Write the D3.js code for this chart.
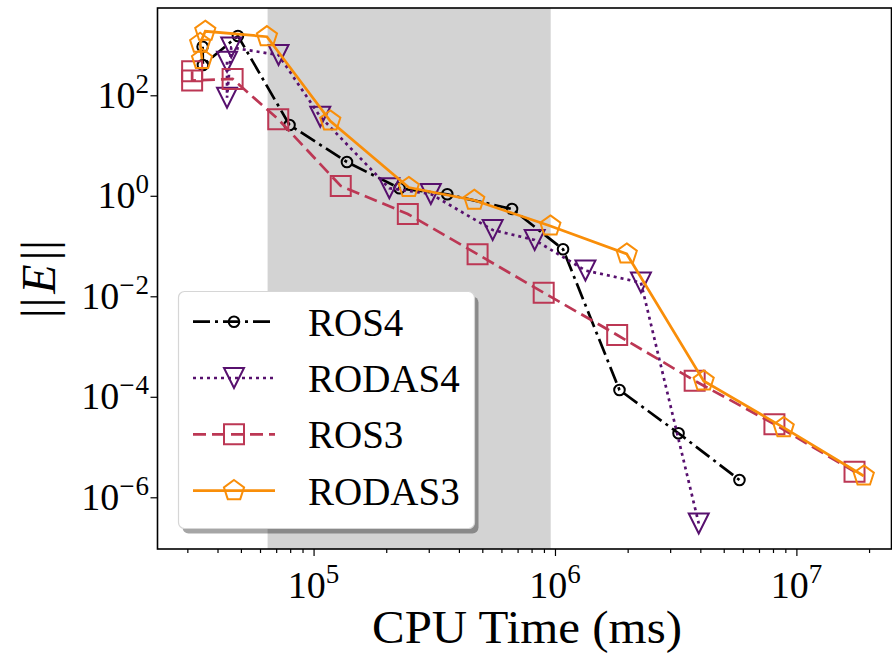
<!DOCTYPE html>
<html>
<head>
<meta charset="utf-8">
<script src="https://cdn.jsdelivr.net/npm/d3@7"></script>
<style>
  body { margin: 0; background: #fff; }
  svg { display: block; }
  text { font-family: "Liberation Serif", "DejaVu Serif", serif; fill: #000; }
</style>
</head>
<body>
<div id="chart"></div>
<script>
/* ── data ──────────────────────────────────────────────────── */
const seriesNames = ['ROS4', 'RODAS4', 'ROS3', 'RODAS3'];

const ros4Time   = [3.47e4, 3.48e4, 4.86e4, 7.95e4, 1.375e5, 2.27e5, 3.58e5, 6.64e5, 1.08e6, 1.85e6, 3.25e6, 5.81e6];
const ros4Err    = [927, 401, 1514, 25.6, 4.71, 1.41, 1.07, 0.546, 0.0861, 1.365e-4, 1.88e-5, 2.21e-6];

const rodas4Time = [4.38e4, 4.38e4, 4.56e4, 7.16e4, 1.066e5, 2.06e5, 3.06e5, 5.52e5, 8.24e5, 1.337e6, 2.27e6, 3.94e6];
const rodas4Err  = [466, 89.6, 894, 634, 37.5, 1.41, 1.086, 0.2087, 0.132, 0.0326, 0.0188, 3.01e-7];

const ros3Time   = [3.14e4, 3.14e4, 4.62e4, 7.14e4, 1.296e5, 2.457e5, 4.78e5, 8.98e5, 1.81e6, 3.79e6, 8.11e6, 1.741e7];
const ros3Err    = [300, 197, 211, 33.3, 1.57, 0.434, 0.0685, 0.0118, 1.70e-3, 2.09e-4, 2.84e-5, 3.23e-6];

const rodas3Time = [3.45e4, 3.39e4, 3.56e4, 6.41e4, 1.173e5, 2.48e5, 4.63e5, 9.57e5, 1.983e6, 4.13e6, 8.86e6, 1.902e7];
const rodas3Err  = [520, 1083, 1878, 1466, 30.8, 1.46, 0.814, 0.2506, 0.0695, 2.06e-4, 2.43e-5, 2.65e-6];

const shadeRange  = [6.45e4, 9.6e5];          // grey band on the time axis
const xTickValues = [1e5, 1e6, 1e7];
const xTickExp    = ['5', '6', '7'];
const yTickValues = [1e2, 1e0, 1e-2, 1e-4, 1e-6];
const yTickExp    = ['2', '0', '\u22122', '\u22124', '\u22126'];

/* ── layout ────────────────────────────────────────────────── */
const W = 892, H = 656;
const PLOT = {left: 157.5, right: 891.5, top: 8, bottom: 549};

const colors  = ['#000000', '#57106e', '#bc3754', '#f98e09'];
const dashes  = ['17,5,3,5', '3,4', '13,6', null];
const markers = ['o', 'v', 's', 'p'];

const series = [
  {name: seriesNames[0], t: ros4Time,   e: ros4Err},
  {name: seriesNames[1], t: rodas4Time, e: rodas4Err},
  {name: seriesNames[2], t: ros3Time,   e: ros3Err},
  {name: seriesNames[3], t: rodas3Time, e: rodas3Err}
];

const svg = d3.select('#chart').append('svg')
  .attr('width', W).attr('height', H);

const x = d3.scaleLog()
  .domain([Math.pow(10, 4.3535), Math.pow(10, 7.394)])
  .range([PLOT.left, PLOT.right]);
const y = d3.scaleLog()
  .domain([Math.pow(10, 3.737), Math.pow(10, -7.029)])
  .range([PLOT.top, PLOT.bottom]);

svg.append('defs').append('clipPath').attr('id', 'clip')
  .append('rect')
  .attr('x', PLOT.left).attr('y', PLOT.top)
  .attr('width', PLOT.right - PLOT.left).attr('height', PLOT.bottom - PLOT.top);

// shaded band
svg.append('rect')
  .attr('x', x(shadeRange[0])).attr('y', PLOT.top)
  .attr('width', x(shadeRange[1]) - x(shadeRange[0]))
  .attr('height', PLOT.bottom - PLOT.top)
  .attr('fill', '#d3d3d3');

/* marker paths centred on 0,0 */
function markerPath(type) {
  if (type === 'o') {
    const r = 5.3;
    return `M${r},0A${r},${r} 0 1 1 ${-r},0A${r},${r} 0 1 1 ${r},0Z`;
  }
  if (type === 'v') {
    const s = 20;
    return `M${-s/2},${-s/2}L${s/2},${-s/2}L0,${s/2}Z`;
  }
  if (type === 's') {
    const a = 20;
    return `M${-a/2},${-a/2}h${a}v${a}h${-a}Z`;
  }
  // pentagon
  const R = 10.6;
  const pts = d3.range(5).map(k => {
    const ang = -Math.PI / 2 + k * 2 * Math.PI / 5;
    return [R * Math.cos(ang), R * Math.sin(ang)];
  });
  return 'M' + pts.map(p => p.join(',')).join('L') + 'Z';
}

const line = d3.line()
  .x(d => x(d[0]))
  .y(d => y(d[1]));

const plotG = svg.append('g').attr('clip-path', 'url(#clip)');

series.forEach((s, i) => {
  const pts = s.t.map((t, j) => [t, s.e[j]]);
  const g = plotG.append('g');
  g.append('path')
    .datum(pts)
    .attr('d', line)
    .attr('fill', 'none')
    .attr('stroke', colors[i])
    .attr('stroke-width', 2.7)
    .attr('stroke-dasharray', dashes[i]);
  g.selectAll('.mk')
    .data(pts)
    .enter().append('path')
    .attr('class', 'mk')
    .attr('transform', d => `translate(${x(d[0])},${y(d[1])})`)
    .attr('d', markerPath(markers[i]))
    .attr('fill', 'none')
    .attr('stroke', colors[i])
    .attr('stroke-width', 2);
});

/* ── axes ──────────────────────────────────────────────────── */
const minorX = [];
[1e4, 1e5, 1e6, 1e7].forEach(dec => {
  for (let k = 2; k <= 9; k++) {
    const v = dec * k;
    if (v > x.domain()[0] && v < x.domain()[1]) minorX.push(v);
  }
});

const gxMinor = svg.append('g')
  .attr('transform', `translate(0,${PLOT.bottom})`)
  .call(d3.axisBottom(x).tickValues(minorX).tickSize(4).tickFormat(''));
const gx = svg.append('g')
  .attr('transform', `translate(0,${PLOT.bottom})`)
  .call(d3.axisBottom(x).tickValues(xTickValues).tickSize(7).tickFormat(''));
const gy = svg.append('g')
  .attr('transform', `translate(${PLOT.left},0)`)
  .call(d3.axisLeft(y).tickValues(yTickValues).tickSize(7).tickFormat(''));

[gxMinor, gx, gy].forEach(g => {
  g.select('.domain').remove();
  g.selectAll('line').attr('stroke', '#000').attr('stroke-width', 1.2);
});

// tick labels with superscripts
xTickValues.forEach((v, i) => {
  const t = svg.append('text')
    .attr('x', x(v)).attr('y', 598)
    .attr('text-anchor', 'middle')
    .attr('font-size', 38);
  t.append('tspan').text('10');
  t.append('tspan').attr('dy', -15).attr('font-size', 27).text(xTickExp[i]);
});
yTickValues.forEach((v, i) => {
  const t = svg.append('text')
    .attr('x', 150).attr('y', y(v) + 12.5)
    .attr('text-anchor', 'end')
    .attr('font-size', 38);
  t.append('tspan').text('10');
  t.append('tspan').attr('dy', -15).attr('font-size', 27)
    .attr('letter-spacing', 1).text(yTickExp[i]);
});

// frame
svg.append('rect')
  .attr('x', PLOT.left).attr('y', PLOT.top)
  .attr('width', PLOT.right - PLOT.left).attr('height', PLOT.bottom - PLOT.top)
  .attr('fill', 'none').attr('stroke', '#000').attr('stroke-width', 1.6);

// axis titles
svg.append('text')
  .attr('x', 527).attr('y', 643)
  .attr('text-anchor', 'middle')
  .attr('font-size', 46)
  .attr('textLength', 310)
  .attr('lengthAdjust', 'spacingAndGlyphs')
  .text('CPU Time (ms)');

const yl = svg.append('text')
  .attr('transform', `translate(55,${(PLOT.top + PLOT.bottom) / 2}) rotate(-90)`)
  .attr('text-anchor', 'middle')
  .attr('font-size', 48);
yl.append('tspan').attr('letter-spacing', 1).text('||');
yl.append('tspan').attr('dx', 3).attr('font-style', 'italic').text('E');
yl.append('tspan').attr('dx', 4).attr('letter-spacing', 1).text('||');

/* ── legend ────────────────────────────────────────────────── */
const LEG = {x: 178.5, y: 291.5, w: 296, h: 237, rowY: 321.7, rowGap: 56.3};
const leg = svg.append('g');
leg.append('rect')
  .attr('x', LEG.x + 4).attr('y', LEG.y + 5)
  .attr('width', LEG.w).attr('height', LEG.h)
  .attr('rx', 6).attr('fill', '#000').attr('fill-opacity', 0.35);
leg.append('rect')
  .attr('x', LEG.x).attr('y', LEG.y)
  .attr('width', LEG.w).attr('height', LEG.h)
  .attr('rx', 6).attr('fill', '#fff').attr('stroke', '#d6d6d6').attr('stroke-width', 1.2);

seriesNames.forEach((name, i) => {
  const cy = LEG.rowY + i * LEG.rowGap;
  leg.append('line')
    .attr('x1', 193).attr('x2', 275).attr('y1', cy).attr('y2', cy)
    .attr('stroke', colors[i]).attr('stroke-width', 2.7)
    .attr('stroke-dasharray', dashes[i]);
  leg.append('path')
    .attr('transform', `translate(234,${cy})`)
    .attr('d', markerPath(markers[i]))
    .attr('fill', 'none').attr('stroke', colors[i]).attr('stroke-width', 2);
  leg.append('text')
    .attr('x', 308).attr('y', cy + 14)
    .attr('font-size', 39)
    .text(name);
});
</script>
</body>
</html>
